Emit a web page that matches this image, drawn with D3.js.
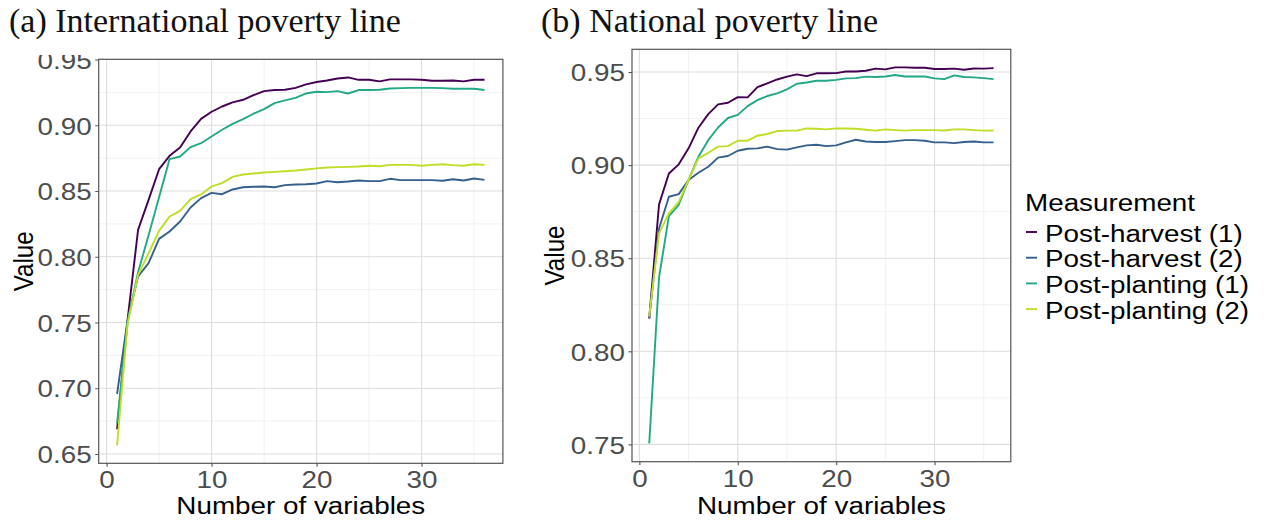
<!DOCTYPE html>
<html><head><meta charset="utf-8">
<script src="https://cdn.jsdelivr.net/npm/d3@7"></script>
<style>body{margin:0;background:#fff}</style></head><body>
<svg id="chart" width="1269" height="525"></svg>
<script>
// ---------- data ----------
const steps = d3.range(1, 37); // number of variables 1..36
const seriesNames = ["Post-harvest (1)", "Post-harvest (2)", "Post-planting (1)", "Post-planting (2)"];
const legendTitle = "Measurement";
const panelTitles = ["(a) International poverty line", "(b) National poverty line"];
const xLabel = "Number of variables";
const yLabel = "Value";
const xTicks = [0, 10, 20, 30];
const xMinor = [5, 15, 25, 35];
const yTicksA = [0.65, 0.70, 0.75, 0.80, 0.85, 0.90, 0.95];
const yMinorA = [0.675, 0.725, 0.775, 0.825, 0.875, 0.925];
const yTicksB = [0.75, 0.80, 0.85, 0.90, 0.95];
const yMinorB = [0.775, 0.825, 0.875, 0.925];

// (a) International poverty line
const intlPH1 = [0.6688,0.752,0.8205,0.8433,0.8666,0.8768,0.8831,0.8953,0.9049,0.9103,0.9143,0.9174,0.9194,0.9230,0.9260,0.9268,0.9270,0.9285,0.9311,0.9329,0.9341,0.9356,0.9364,0.9346,0.9346,0.9334,0.9349,0.9349,0.9349,0.9346,0.9339,0.9339,0.9341,0.9334,0.9346,0.9346];
const intlPH2 = [0.6957,0.752,0.7850,0.7951,0.8136,0.8192,0.8268,0.8375,0.8446,0.8486,0.8476,0.8512,0.8529,0.8532,0.8534,0.8529,0.8545,0.8550,0.8552,0.8557,0.8575,0.8567,0.8572,0.8580,0.8575,0.8575,0.8593,0.8583,0.8583,0.8583,0.8583,0.8578,0.8590,0.8580,0.8595,0.8585];
const intlPP1 = [0.6733,0.750,0.7882,0.8164,0.8453,0.8743,0.8763,0.8834,0.8864,0.8915,0.8966,0.9011,0.9047,0.9088,0.9123,0.9169,0.9189,0.9209,0.9242,0.9255,0.9252,0.9260,0.9242,0.9268,0.9268,0.9270,0.9280,0.9283,0.9285,0.9285,0.9285,0.9283,0.9278,0.9278,0.9278,0.9268];
const intlPP2 = [0.6566,0.749,0.7862,0.8027,0.8197,0.8306,0.8349,0.8438,0.8474,0.8535,0.8560,0.8608,0.8626,0.8633,0.8641,0.8646,0.8651,0.8656,0.8664,0.8672,0.8679,0.8682,0.8684,0.8687,0.8692,0.8689,0.8699,0.8699,0.8699,0.8692,0.8699,0.8704,0.8697,0.8692,0.8704,0.8699];

// (b) National poverty line
const natPH1 = [0.8177,0.8789,0.8955,0.9004,0.9090,0.9201,0.9274,0.9326,0.9335,0.9365,0.9364,0.9419,0.9439,0.9460,0.9475,0.9487,0.9478,0.9493,0.9493,0.9494,0.9503,0.9503,0.9507,0.9518,0.9514,0.9525,0.9525,0.9523,0.9523,0.9516,0.9516,0.9518,0.9512,0.9519,0.9518,0.9521];
const natPH2 = [0.8177,0.8660,0.8830,0.8844,0.8920,0.8959,0.8991,0.9040,0.9049,0.9077,0.9088,0.9090,0.9099,0.9086,0.9083,0.9095,0.9106,0.9109,0.9102,0.9106,0.9122,0.9136,0.9127,0.9124,0.9124,0.9129,0.9134,0.9134,0.9131,0.9122,0.9122,0.9118,0.9124,0.9127,0.9122,0.9122];
const natPP1 = [0.7505,0.8397,0.8726,0.8787,0.8920,0.9045,0.9134,0.9202,0.9253,0.9270,0.9317,0.9349,0.9371,0.9385,0.9407,0.9437,0.9444,0.9453,0.9453,0.9458,0.9466,0.9467,0.9475,0.9473,0.9476,0.9484,0.9476,0.9476,0.9476,0.9466,0.9462,0.9482,0.9473,0.9471,0.9467,0.9462];
const natPP2 = [0.8186,0.8633,0.8741,0.8803,0.8920,0.9036,0.9066,0.9099,0.9102,0.9131,0.9131,0.9158,0.9167,0.9183,0.9185,0.9185,0.9197,0.9195,0.9192,0.9197,0.9197,0.9195,0.9190,0.9185,0.9192,0.9188,0.9185,0.9188,0.9188,0.9188,0.9186,0.9192,0.9192,0.9188,0.9185,0.9186];

// ---------- styling ----------
const colors = [0, 0.3, 0.6, 0.9].map(d3.interpolateViridis);
const SANS = "'Liberation Sans', Arial, Helvetica, sans-serif";
const SERIF = "'Liberation Serif', 'Times New Roman', serif";
const FS = 24.2;      // sans font size
const HS = 1.15;      // horizontal stretch of the original figure text
const svg = d3.select("#chart");
svg.append("rect").attr("width", 1269).attr("height", 525).attr("fill", "#fff");

const defs = svg.append("defs");
// clip in the y-axis group's own coordinates (group is translated to the panel's left edge)
defs.append("clipPath").attr("id", "clipA").append("rect")
  .attr("x", -120).attr("y", 55).attr("width", 130).attr("height", 470);

function panel(cfg) {
  const x = d3.scaleLinear().domain([-0.75, 37.75]).range([cfg.left, cfg.right]);
  const y = d3.scaleLinear().domain(cfg.yDomain).range([cfg.bottom, cfg.top]);
  const g = svg.append("g");

  // minor grid
  g.selectAll(".vmin").data(xMinor).join("line")
    .attr("x1", d => x(d)).attr("x2", d => x(d)).attr("y1", cfg.top).attr("y2", cfg.bottom)
    .attr("stroke", "#F1F1F1").attr("stroke-width", 1);
  g.selectAll(".hmin").data(cfg.yMinor).join("line")
    .attr("y1", d => y(d)).attr("y2", d => y(d)).attr("x1", cfg.left).attr("x2", cfg.right)
    .attr("stroke", "#F1F1F1").attr("stroke-width", 1);
  // major grid
  g.selectAll(".vmaj").data(xTicks).join("line")
    .attr("x1", d => x(d)).attr("x2", d => x(d)).attr("y1", cfg.top).attr("y2", cfg.bottom)
    .attr("stroke", "#DDDDDD").attr("stroke-width", 1.1);
  g.selectAll(".hmaj").data(cfg.yTicks).join("line")
    .attr("y1", d => y(d)).attr("y2", d => y(d)).attr("x1", cfg.left).attr("x2", cfg.right)
    .attr("stroke", "#DDDDDD").attr("stroke-width", 1.1);

  // lines
  const line = d3.line().x((d, i) => x(steps[i])).y(d => y(d));
  cfg.series.forEach((s, i) => {
    g.append("path").datum(s).attr("d", line).attr("fill", "none")
      .attr("stroke", colors[i]).attr("stroke-width", 1.9).attr("stroke-linejoin", "round");
  });

  // border
  g.append("rect").attr("x", cfg.left).attr("y", cfg.top)
    .attr("width", cfg.right - cfg.left).attr("height", cfg.bottom - cfg.top)
    .attr("fill", "none").attr("stroke", "#555").attr("stroke-width", 1.2);

  // y axis
  const ya = g.append("g").attr("transform", `translate(${cfg.left},0)`)
    .call(d3.axisLeft(y).tickValues(cfg.yTicks).tickFormat(d3.format(".2f")).tickSize(3.5).tickPadding(0));
  ya.select(".domain").remove();
  ya.selectAll(".tick line").attr("stroke", "#555").attr("stroke-width", 1.1);
  ya.selectAll(".tick text").attr("x", 0).attr("dy", "0.36em")
    .attr("transform", `translate(-7,0) scale(${HS},1)`)
    .attr("fill", "#4D4D4D").style("font-family", SANS).style("font-size", FS + "px");

  // x axis
  const xa = g.append("g").attr("transform", `translate(0,${cfg.bottom})`)
    .call(d3.axisBottom(x).tickValues(xTicks).tickFormat(d3.format("d")).tickSize(3.5).tickPadding(0));
  xa.select(".domain").remove();
  xa.selectAll(".tick line").attr("stroke", "#555").attr("stroke-width", 1.1);
  xa.selectAll(".tick text").attr("y", 25).attr("dy", 0)
    .attr("transform", `scale(${HS},1)`)
    .attr("fill", "#4D4D4D").style("font-family", SANS).style("font-size", FS + "px");

  // axis titles
  const cx = (cfg.left + cfg.right) / 2;
  g.append("text").attr("transform", `translate(${cx},514) scale(${HS},1)`)
    .attr("text-anchor", "middle").style("font-family", SANS).style("font-size", FS + "px")
    .attr("fill", "#000").text(xLabel);
  const cy = (cfg.top + cfg.bottom) / 2;
  g.append("text").attr("transform", `translate(${cfg.yTitleX},${cy}) rotate(-90) scale(1,${HS})`)
    .attr("text-anchor", "middle").style("font-family", SANS).style("font-size", FS + "px")
    .attr("fill", "#000").text(yLabel);

  // panel title
  svg.append("text").attr("x", cfg.titleX).attr("y", 32)
    .style("font-family", SERIF).style("font-size", "34px").attr("fill", "#111")
    .text(cfg.title);
  return ya;
}

const yaA = panel({
  left: 98.7, right: 502.9, top: 59.3, bottom: 463.3,
  yDomain: [0.6429, 0.9502], yTicks: yTicksA, yMinor: yMinorA,
  series: [intlPH1, intlPH2, intlPP1, intlPP2],
  title: panelTitles[0], titleX: 9, yTitleX: 33
});
yaA.attr("clip-path", "url(#clipA)");

panel({
  left: 632, right: 1010.8, top: 49.3, bottom: 461.7,
  yDomain: [0.7407, 0.9622], yTicks: yTicksB, yMinor: yMinorB,
  series: [natPH1, natPH2, natPP1, natPP2],
  title: panelTitles[1], titleX: 541, yTitleX: 564
});

// legend
const lg = svg.append("g");
lg.append("text").attr("transform", `translate(1025,210.7) scale(${HS},1)`)
  .style("font-family", SANS).style("font-size", FS + "px").attr("fill", "#000").text(legendTitle);
seriesNames.forEach((name, i) => {
  const yc = 232 + i * 25.7;
  lg.append("line").attr("x1", 1026).attr("x2", 1037).attr("y1", yc).attr("y2", yc)
    .attr("stroke", colors[i]).attr("stroke-width", 1.9);
  lg.append("text").attr("transform", `translate(1045,${yc + 9.7}) scale(${HS},1)`)
    .style("font-family", SANS).style("font-size", FS + "px").attr("fill", "#000").text(name);
});
</script>
</body></html>
